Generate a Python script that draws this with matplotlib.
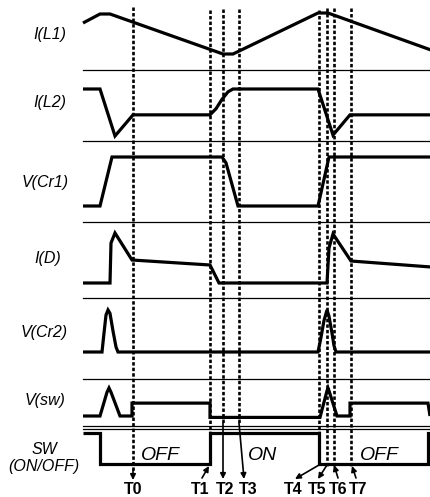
import matplotlib
matplotlib.use("Agg")
import matplotlib.pyplot as plt
from matplotlib import font_manager

# timing marks (time in picture units, traces start at 83)
mark_t = [133, 210, 223, 239, 319, 327, 334, 351]
mark_names = ["T0", "T1", "T2", "T3", "T4", "T5", "T6", "T7"]

# waveforms, values normalised 0..1 inside each row
il1_t = [83, 100, 110, 223, 233, 318, 328, 431]
il1_v = [0.74, 0.92, 0.92, 0.12, 0.12, 0.94, 0.94, 0.20]

il2_t = [83, 100, 115, 133, 210, 216, 222, 228, 233, 318, 333, 350, 431]
il2_v = [1.0, 1.0, 0.0, 0.45, 0.45, 0.58, 0.78, 0.94, 1.0, 1.0, 0.02, 0.45, 0.45]

vcr1_t = [83, 100, 112, 222, 226, 238, 318, 329, 431]
vcr1_v = [0.0, 0.0, 1.0, 1.0, 0.88, 0.0, 0.0, 1.0, 1.0]

id_t = [83, 110, 111, 115, 132, 210, 219, 327, 329, 333, 351, 431]
id_v = [0.0, 0.0, 0.8, 1.0, 0.46, 0.36, 0.0, 0.0, 0.7, 0.98, 0.44, 0.32]

vcr2_t = [83, 102, 104, 106, 108, 110, 113, 116, 118, 318, 321, 324, 327, 329, 332, 334, 336, 431]
vcr2_v = [0.0, 0.0, 0.45, 0.88, 1.0, 0.92, 0.5, 0.12, 0.0, 0.0, 0.35, 0.75, 1.0, 0.85, 0.45, 0.15, 0.0, 0.0]

vsw_t = [83, 100, 107, 109, 111, 120, 132, 132, 210, 210, 320, 327, 328, 329, 337, 350, 350, 428, 430]
vsw_v = [0.0, 0.0, 0.85, 1.0, 0.85, 0.0, 0.0, 0.46, 0.46, -0.05, -0.05, 0.9, 1.0, 0.9, 0.0, 0.0, 0.46, 0.46, 0.0]

sw_t = [83, 100, 100, 210, 210, 319, 319, 428, 428, 431]
sw_v = [1, 1, 0, 0, 1, 1, 0, 0, 1, 1]

row_labels = ["I(L1)", "I(L2)", "V(Cr1)", "I(D)", "V(Cr2)", "V(sw)", "SW\n(ON/OFF)"]
state_labels = ["OFF", "ON", "OFF"]
state_t = [160, 263, 379]


def pick_font():
    names = {f.name for f in font_manager.fontManager.ttflist}
    for n in ["Liberation Sans Narrow", "Liberation Sans", "DejaVu Sans"]:
        if n in names:
            return n
    return "DejaVu Sans"


def main():
    font = pick_font()
    fig = plt.figure(figsize=(4.31, 4.97), dpi=100)
    ax = fig.add_axes([0, 0, 1, 1])
    ax.set_xlim(0, 431)
    ax.set_ylim(497, 0)
    ax.axis("off")

    series = [(il1_t, il1_v), (il2_t, il2_v), (vcr1_t, vcr1_v), (id_t, id_v),
              (vcr2_t, vcr2_v), (vsw_t, vsw_v), (sw_t, sw_v)]
    row_base = [60, 136, 206, 283, 352, 416, 464]
    row_scale = [50, 47, 49, 50, 42, 28, 31]
    label_xy = [(50, 35), (50, 103), (45, 183), (48, 259), (44, 333), (45, 401), (44, 458)]

    for (t, v), base, sc, lab, (lx, ly) in zip(series, row_base, row_scale, row_labels, label_xy):
        ax.plot(t, [base - sc * a for a in v], color="black", lw=2.3,
                solid_joinstyle="miter", solid_capstyle="butt")
        ax.text(lx, ly, lab, ha="center", va="center", fontsize=11.5, style="italic",
                family=font, linespacing=1.25)

    for y in [70, 141, 222, 298, 379, 426, 429]:
        ax.plot([83, 431], [y, y], color="black", lw=0.9)

    # dashed timing lines
    dash_top = [7, 10, 9, 9, 10, 8, 8, 8]
    dash_bot = [472, 463, 423, 423, 463, 466, 466, 466]
    for t, y0, y1 in zip(mark_t, dash_top, dash_bot):
        ax.plot([t, t], [y0, y1], color="black", lw=1.9, linestyle=(0, (1.3, 0.8)))

    # arrows from labels to marks
    arrow_from = [(133, 470), (202, 478), (223, 423), (239, 423), (319, 465), (327, 465), (338, 478), (356, 478)]
    arrow_to = [(133, 480), (209, 466), (223, 479), (244, 479), (295, 479), (318, 479), (334, 465), (352, 466)]
    for (x0, y0), (x1, y1) in zip(arrow_from, arrow_to):
        ax.annotate("", xy=(x1, y1), xytext=(x0, y0),
                    arrowprops=dict(arrowstyle="-|>", color="black", lw=1.2,
                                    mutation_scale=8, shrinkA=0, shrinkB=0))

    name_x = [133, 200, 225, 248, 293, 317, 338, 358]
    for x, name in zip(name_x, mark_names):
        ax.text(x, 489, name, ha="center", va="center", fontsize=11.5,
                weight="bold", family=font)

    for t, s in zip(state_t, state_labels):
        ax.text(t, 455, s, ha="center", va="center", fontsize=14, style="italic", family=font)

    fig.savefig("out.png", dpi=100)


if __name__ == "__main__":
    main()
